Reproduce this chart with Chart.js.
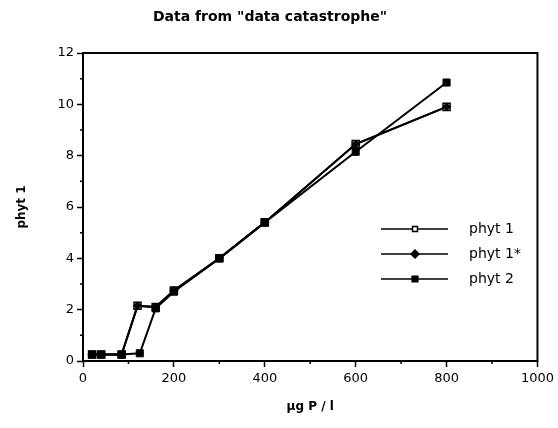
<!DOCTYPE html>
<html>
<head>
<meta charset="utf-8">
<script src="https://cdn.jsdelivr.net/npm/chart.js@4/dist/chart.umd.min.js"></script>
<style>
  body { margin: 0; background: #fff; }
  #wrap { width: 558px; height: 428px; }
</style>
</head>
<body>
<div id="wrap"><canvas id="chart" width="558" height="428"></canvas></div>
<script>
// values
const xPhyt1 = [20, 40, 85, 120, 160, 200, 300, 400, 600, 800];
const yPhyt1 = [0.25, 0.25, 0.25, 2.15, 2.1, 2.75, 4.0, 5.4, 8.45, 9.9];
const xPhyt1s = [20, 40, 85, 120, 160, 200, 300, 400, 600, 800];
const yPhyt1s = [0.25, 0.25, 0.25, 2.15, 2.1, 2.75, 4.0, 5.4, 8.45, 9.9];
const xPhyt2 = [20, 40, 85, 125, 160, 200, 300, 400, 600, 800];
const yPhyt2 = [0.25, 0.25, 0.25, 0.3, 2.05, 2.7, 4.0, 5.4, 8.15, 10.85];
const seriesNames = ["phyt 1", "phyt 1*", "phyt 2"];

function toPoints(xs, ys) {
  return xs.map((x, i) => ({ x: x, y: ys[i] }));
}

const font = "'DejaVu Sans', sans-serif";

// box round the plot, minor ticks, title and legend
const extras = {
  id: "extras",
  afterDraw(chart) {
    const ctx = chart.ctx;
    const a = chart.chartArea;
    const xs = chart.scales.x;
    const ys = chart.scales.y;
    ctx.save();
    ctx.strokeStyle = "#000";
    ctx.lineWidth = 2;
    ctx.strokeRect(a.left, a.top, a.right - a.left, a.bottom - a.top);

    // minor ticks
    ctx.lineWidth = 1.5;
    ctx.beginPath();
    for (let v = 1; v < 12; v += 2) {
      const py = ys.getPixelForValue(v);
      ctx.moveTo(a.left - 3, py);
      ctx.lineTo(a.left, py);
    }
    for (let v = 100; v < 1000; v += 200) {
      const px = xs.getPixelForValue(v);
      ctx.moveTo(px, a.bottom);
      ctx.lineTo(px, a.bottom + 3);
    }
    ctx.stroke();

    // title
    ctx.fillStyle = "#000";
    ctx.font = "bold 14px " + font;
    ctx.textAlign = "center";
    ctx.textBaseline = "middle";
    ctx.fillText('Data from "data catastrophe"', 270, 17);

    // legend
    const rows = [229, 254, 279];
    chart.data.datasets.forEach((ds, i) => {
      const y = rows[i];
      ctx.strokeStyle = "#000";
      ctx.lineWidth = 1.5;
      ctx.beginPath();
      ctx.moveTo(381, y);
      ctx.lineTo(448, y);
      ctx.stroke();
      ctx.fillStyle = ds.pointBackgroundColor;
      ctx.strokeStyle = "#000";
      Chart.helpers.drawPoint(ctx, {
        pointStyle: ds.pointStyle,
        radius: ds.legendRadius,
        borderWidth: 1.5
      }, 415, y);
      ctx.fillStyle = "#000";
      ctx.font = "14px " + font;
      ctx.textAlign = "left";
      ctx.textBaseline = "middle";
      ctx.fillText(ds.label, 469, y);
    });
    ctx.restore();
  }
};

const canvas = document.querySelector("#chart");

new Chart(canvas, {
  type: "line",
  data: {
    datasets: [{
      label: seriesNames[0],
      data: toPoints(xPhyt1, yPhyt1),
      order: 3,
      borderColor: "#000",
      borderWidth: 2,
      pointStyle: "rect",
      pointRadius: 5,
      legendRadius: 3.5,
      pointBackgroundColor: "#fff",
      pointBorderColor: "#000",
      pointBorderWidth: 1.5
    }, {
      label: seriesNames[1],
      data: toPoints(xPhyt1s, yPhyt1s),
      order: 2,
      borderColor: "#000",
      borderWidth: 2,
      pointStyle: "rectRot",
      pointRadius: 4,
      legendRadius: 4,
      pointBackgroundColor: "#000",
      pointBorderColor: "#000",
      pointBorderWidth: 1
    }, {
      label: seriesNames[2],
      data: toPoints(xPhyt2, yPhyt2),
      order: 1,
      borderColor: "#000",
      borderWidth: 2,
      pointStyle: "rect",
      pointRadius: 5,
      legendRadius: 4,
      pointBackgroundColor: "#000",
      pointBorderColor: "#000",
      pointBorderWidth: 1
    }]
  },
  options: {
    responsive: false,
    animation: false,
    layout: {
      padding: { top: 53, right: 15, bottom: 0, left: 0 }
    },
    plugins: {
      legend: { display: false },
      title: { display: false },
      tooltip: { enabled: false }
    },
    scales: {
      x: {
        type: "linear",
        min: 0,
        max: 1000,
        afterFit: s => { s.height = 67; },
        border: { display: false },
        grid: {
          drawOnChartArea: false,
          tickLength: 6,
          tickWidth: 1.5,
          tickColor: "#000"
        },
        ticks: {
          stepSize: 200,
          color: "#000",
          padding: 4,
          callback: v => String(v),
          font: { family: font, size: 13 }
        },
        title: {
          display: true,
          text: "µg P / l",
          color: "#000",
          padding: { top: 8, bottom: 14 },
          font: { family: font, size: 12, weight: "bold" }
        }
      },
      y: {
        min: 0,
        max: 12,
        afterFit: s => { s.width = 83; },
        border: { display: false },
        grid: {
          drawOnChartArea: false,
          tickLength: 6,
          tickWidth: 1.5,
          tickColor: "#000"
        },
        ticks: {
          stepSize: 2,
          color: "#000",
          padding: 3,
          callback: v => String(v),
          font: { family: font, size: 13 }
        },
        title: {
          display: true,
          text: "phyt 1",
          color: "#000",
          padding: { top: 15, bottom: 0 },
          font: { family: font, size: 12, weight: "bold" }
        }
      }
    }
  },
  plugins: [extras]
});
</script>
</body>
</html>
